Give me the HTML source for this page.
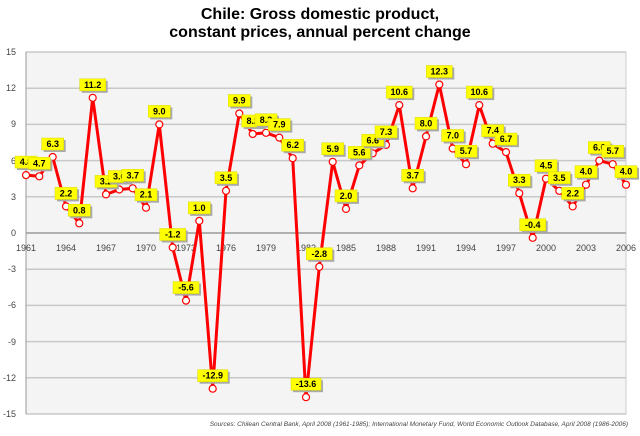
<!DOCTYPE html>
<html><head><meta charset="utf-8"><style>
html,body{margin:0;padding:0;background:#fff}
svg{display:block;font-family:"Liberation Sans",sans-serif}
.t{font-size:16px;font-weight:bold;text-anchor:middle;fill:#000}
.ax{font-size:9px;fill:#444}
.lb rect{fill:#ffff00;stroke:#d8d800;stroke-width:0.5}
.lb .s{fill:#aaa;stroke:none}
.lb text{font-size:9px;font-weight:bold;text-anchor:middle;fill:#000}
</style></head><body>
<svg width="640" height="436" viewBox="0 0 640 436">
<text class="t" x="320" y="19">Chile: Gross domestic product,</text>
<text class="t" x="320" y="37">constant prices, annual percent change</text>
<rect x="26" y="52" width="600" height="362" fill="#f4f4f4" stroke="#ccc"/>
<g stroke="#c8c8c8" stroke-width="1.5">
<line x1="26" x2="626" y1="52" y2="52"/><line x1="26" x2="626" y1="88.2" y2="88.2"/><line x1="26" x2="626" y1="124.4" y2="124.4"/><line x1="26" x2="626" y1="160.6" y2="160.6"/><line x1="26" x2="626" y1="196.8" y2="196.8"/>
<line x1="26" x2="626" y1="269.2" y2="269.2"/><line x1="26" x2="626" y1="305.4" y2="305.4"/><line x1="26" x2="626" y1="341.6" y2="341.6"/><line x1="26" x2="626" y1="377.8" y2="377.8"/><line x1="26" x2="626" y1="414" y2="414"/>
</g>
<line x1="26" x2="626" y1="233" y2="233" stroke="#999" stroke-width="1.5"/>
<line x1="26" x2="26" y1="52" y2="414" stroke="#999"/>
<g class="ax" text-anchor="end">
<text x="16" y="55">15</text><text x="16" y="91">12</text><text x="16" y="127">9</text><text x="16" y="164">6</text><text x="16" y="200">3</text><text x="16" y="236">0</text><text x="16" y="272">-3</text><text x="16" y="308">-6</text><text x="16" y="345">-9</text><text x="16" y="381">-12</text><text x="16" y="417">-15</text>
</g>
<g class="ax" text-anchor="middle">
<text x="26" y="251">1961</text><text x="66" y="251">1964</text><text x="106" y="251">1967</text><text x="146" y="251">1970</text><text x="186" y="251">1973</text><text x="226" y="251">1976</text><text x="266" y="251">1979</text><text x="306" y="251">1982</text><text x="346" y="251">1985</text><text x="386" y="251">1988</text><text x="426" y="251">1991</text><text x="466" y="251">1994</text><text x="506" y="251">1997</text><text x="546" y="251">2000</text><text x="586" y="251">2003</text><text x="626" y="251">2006</text>
</g>
<polyline fill="none" stroke="#ff0000" stroke-width="3" stroke-linejoin="round" points="26,175.1 39.3,176.3 52.7,157 66,206.4 79.3,223.3 92.7,97.8 106,194.4 119.3,189.5 132.7,188.3 146,207.7 159.3,124.4 172.7,247.5 186,300.6 199.3,220.9 212.7,388.7 226,190.8 239.3,113.5 252.7,134 266,132.8 279.3,137.6 292.7,158.2 306,397.2 319.3,266.8 332.7,161.8 346,208.9 359.3,165.4 372.7,153.3 386,144.9 399.3,105.1 412.7,188.3 426,136.4 439.3,84.5 452.7,148.5 466,164.2 479.3,105.1 492.7,143.7 506,152.1 519.3,193.2 532.7,237.8 546,178.7 559.3,190.8 572.7,206.4 586,184.7 599.3,160.6 612.7,164.2 626,184.7"/>
<g fill="#fff" stroke="#ff0000" stroke-width="1.2">
<circle cx="26" cy="175.1" r="3.5"/><circle cx="39.3" cy="176.3" r="3.5"/><circle cx="52.7" cy="157" r="3.5"/><circle cx="66" cy="206.4" r="3.5"/><circle cx="79.3" cy="223.3" r="3.5"/><circle cx="92.7" cy="97.8" r="3.5"/><circle cx="106" cy="194.4" r="3.5"/><circle cx="119.3" cy="189.5" r="3.5"/><circle cx="132.7" cy="188.3" r="3.5"/><circle cx="146" cy="207.7" r="3.5"/><circle cx="159.3" cy="124.4" r="3.5"/><circle cx="172.7" cy="247.5" r="3.5"/><circle cx="186" cy="300.6" r="3.5"/><circle cx="199.3" cy="220.9" r="3.5"/><circle cx="212.7" cy="388.7" r="3.5"/><circle cx="226" cy="190.8" r="3.5"/><circle cx="239.3" cy="113.5" r="3.5"/><circle cx="252.7" cy="134" r="3.5"/><circle cx="266" cy="132.8" r="3.5"/><circle cx="279.3" cy="137.6" r="3.5"/><circle cx="292.7" cy="158.2" r="3.5"/><circle cx="306" cy="397.2" r="3.5"/><circle cx="319.3" cy="266.8" r="3.5"/><circle cx="332.7" cy="161.8" r="3.5"/><circle cx="346" cy="208.9" r="3.5"/><circle cx="359.3" cy="165.4" r="3.5"/><circle cx="372.7" cy="153.3" r="3.5"/><circle cx="386" cy="144.9" r="3.5"/><circle cx="399.3" cy="105.1" r="3.5"/><circle cx="412.7" cy="188.3" r="3.5"/><circle cx="426" cy="136.4" r="3.5"/><circle cx="439.3" cy="84.5" r="3.5"/><circle cx="452.7" cy="148.5" r="3.5"/><circle cx="466" cy="164.2" r="3.5"/><circle cx="479.3" cy="105.1" r="3.5"/><circle cx="492.7" cy="143.7" r="3.5"/><circle cx="506" cy="152.1" r="3.5"/><circle cx="519.3" cy="193.2" r="3.5"/><circle cx="532.7" cy="237.8" r="3.5"/><circle cx="546" cy="178.7" r="3.5"/><circle cx="559.3" cy="190.8" r="3.5"/><circle cx="572.7" cy="206.4" r="3.5"/><circle cx="586" cy="184.7" r="3.5"/><circle cx="599.3" cy="160.6" r="3.5"/><circle cx="612.7" cy="164.2" r="3.5"/><circle cx="626" cy="184.7" r="3.5"/>
</g>
<g class="lb">
<g transform="translate(26,175.1)"><rect class="s" x="-9" y="-17" width="22" height="12"/><rect x="-11" y="-19" width="22" height="12"/><text y="-10">4.8</text></g>
<g transform="translate(39.3,176.3)"><rect class="s" x="-9" y="-17" width="22" height="12"/><rect x="-11" y="-19" width="22" height="12"/><text y="-10">4.7</text></g>
<g transform="translate(52.7,157)"><rect class="s" x="-9" y="-17" width="22" height="12"/><rect x="-11" y="-19" width="22" height="12"/><text y="-10">6.3</text></g>
<g transform="translate(66,206.4)"><rect class="s" x="-9" y="-17" width="22" height="12"/><rect x="-11" y="-19" width="22" height="12"/><text y="-10">2.2</text></g>
<g transform="translate(79.3,223.3)"><rect class="s" x="-9" y="-17" width="22" height="12"/><rect x="-11" y="-19" width="22" height="12"/><text y="-10">0.8</text></g>
<g transform="translate(92.7,97.8)"><rect class="s" x="-11" y="-17" width="26" height="12"/><rect x="-13" y="-19" width="26" height="12"/><text y="-10">11.2</text></g>
<g transform="translate(106,194.4)"><rect class="s" x="-9" y="-17" width="22" height="12"/><rect x="-11" y="-19" width="22" height="12"/><text y="-10">3.2</text></g>
<g transform="translate(119.3,189.5)"><rect class="s" x="-9" y="-17" width="22" height="12"/><rect x="-11" y="-19" width="22" height="12"/><text y="-10">3.6</text></g>
<g transform="translate(132.7,188.3)"><rect class="s" x="-9" y="-17" width="22" height="12"/><rect x="-11" y="-19" width="22" height="12"/><text y="-10">3.7</text></g>
<g transform="translate(146,207.7)"><rect class="s" x="-9" y="-17" width="22" height="12"/><rect x="-11" y="-19" width="22" height="12"/><text y="-10">2.1</text></g>
<g transform="translate(159.3,124.4)"><rect class="s" x="-9" y="-17" width="22" height="12"/><rect x="-11" y="-19" width="22" height="12"/><text y="-10">9.0</text></g>
<g transform="translate(172.7,247.5)"><rect class="s" x="-11" y="-17" width="26" height="12"/><rect x="-13" y="-19" width="26" height="12"/><text y="-10">-1.2</text></g>
<g transform="translate(186,300.6)"><rect class="s" x="-11" y="-17" width="26" height="12"/><rect x="-13" y="-19" width="26" height="12"/><text y="-10">-5.6</text></g>
<g transform="translate(199.3,220.9)"><rect class="s" x="-9" y="-17" width="22" height="12"/><rect x="-11" y="-19" width="22" height="12"/><text y="-10">1.0</text></g>
<g transform="translate(212.7,388.7)"><rect class="s" x="-13" y="-17" width="30" height="12"/><rect x="-15" y="-19" width="30" height="12"/><text y="-10">-12.9</text></g>
<g transform="translate(226,190.8)"><rect class="s" x="-9" y="-17" width="22" height="12"/><rect x="-11" y="-19" width="22" height="12"/><text y="-10">3.5</text></g>
<g transform="translate(239.3,113.5)"><rect class="s" x="-9" y="-17" width="22" height="12"/><rect x="-11" y="-19" width="22" height="12"/><text y="-10">9.9</text></g>
<g transform="translate(252.7,134)"><rect class="s" x="-9" y="-17" width="22" height="12"/><rect x="-11" y="-19" width="22" height="12"/><text y="-10">8.2</text></g>
<g transform="translate(266,132.8)"><rect class="s" x="-9" y="-17" width="22" height="12"/><rect x="-11" y="-19" width="22" height="12"/><text y="-10">8.3</text></g>
<g transform="translate(279.3,137.6)"><rect class="s" x="-9" y="-17" width="22" height="12"/><rect x="-11" y="-19" width="22" height="12"/><text y="-10">7.9</text></g>
<g transform="translate(292.7,158.2)"><rect class="s" x="-9" y="-17" width="22" height="12"/><rect x="-11" y="-19" width="22" height="12"/><text y="-10">6.2</text></g>
<g transform="translate(306,397.2)"><rect class="s" x="-13" y="-17" width="30" height="12"/><rect x="-15" y="-19" width="30" height="12"/><text y="-10">-13.6</text></g>
<g transform="translate(319.3,266.8)"><rect class="s" x="-11" y="-17" width="26" height="12"/><rect x="-13" y="-19" width="26" height="12"/><text y="-10">-2.8</text></g>
<g transform="translate(332.7,161.8)"><rect class="s" x="-9" y="-17" width="22" height="12"/><rect x="-11" y="-19" width="22" height="12"/><text y="-10">5.9</text></g>
<g transform="translate(346,208.9)"><rect class="s" x="-9" y="-17" width="22" height="12"/><rect x="-11" y="-19" width="22" height="12"/><text y="-10">2.0</text></g>
<g transform="translate(359.3,165.4)"><rect class="s" x="-9" y="-17" width="22" height="12"/><rect x="-11" y="-19" width="22" height="12"/><text y="-10">5.6</text></g>
<g transform="translate(372.7,153.3)"><rect class="s" x="-9" y="-17" width="22" height="12"/><rect x="-11" y="-19" width="22" height="12"/><text y="-10">6.6</text></g>
<g transform="translate(386,144.9)"><rect class="s" x="-9" y="-17" width="22" height="12"/><rect x="-11" y="-19" width="22" height="12"/><text y="-10">7.3</text></g>
<g transform="translate(399.3,105.1)"><rect class="s" x="-11" y="-17" width="26" height="12"/><rect x="-13" y="-19" width="26" height="12"/><text y="-10">10.6</text></g>
<g transform="translate(412.7,188.3)"><rect class="s" x="-9" y="-17" width="22" height="12"/><rect x="-11" y="-19" width="22" height="12"/><text y="-10">3.7</text></g>
<g transform="translate(426,136.4)"><rect class="s" x="-9" y="-17" width="22" height="12"/><rect x="-11" y="-19" width="22" height="12"/><text y="-10">8.0</text></g>
<g transform="translate(439.3,84.5)"><rect class="s" x="-11" y="-17" width="26" height="12"/><rect x="-13" y="-19" width="26" height="12"/><text y="-10">12.3</text></g>
<g transform="translate(452.7,148.5)"><rect class="s" x="-9" y="-17" width="22" height="12"/><rect x="-11" y="-19" width="22" height="12"/><text y="-10">7.0</text></g>
<g transform="translate(466,164.2)"><rect class="s" x="-9" y="-17" width="22" height="12"/><rect x="-11" y="-19" width="22" height="12"/><text y="-10">5.7</text></g>
<g transform="translate(479.3,105.1)"><rect class="s" x="-11" y="-17" width="26" height="12"/><rect x="-13" y="-19" width="26" height="12"/><text y="-10">10.6</text></g>
<g transform="translate(492.7,143.7)"><rect class="s" x="-9" y="-17" width="22" height="12"/><rect x="-11" y="-19" width="22" height="12"/><text y="-10">7.4</text></g>
<g transform="translate(506,152.1)"><rect class="s" x="-9" y="-17" width="22" height="12"/><rect x="-11" y="-19" width="22" height="12"/><text y="-10">6.7</text></g>
<g transform="translate(519.3,193.2)"><rect class="s" x="-9" y="-17" width="22" height="12"/><rect x="-11" y="-19" width="22" height="12"/><text y="-10">3.3</text></g>
<g transform="translate(532.7,237.8)"><rect class="s" x="-11" y="-17" width="26" height="12"/><rect x="-13" y="-19" width="26" height="12"/><text y="-10">-0.4</text></g>
<g transform="translate(546,178.7)"><rect class="s" x="-9" y="-17" width="22" height="12"/><rect x="-11" y="-19" width="22" height="12"/><text y="-10">4.5</text></g>
<g transform="translate(559.3,190.8)"><rect class="s" x="-9" y="-17" width="22" height="12"/><rect x="-11" y="-19" width="22" height="12"/><text y="-10">3.5</text></g>
<g transform="translate(572.7,206.4)"><rect class="s" x="-9" y="-17" width="22" height="12"/><rect x="-11" y="-19" width="22" height="12"/><text y="-10">2.2</text></g>
<g transform="translate(586,184.7)"><rect class="s" x="-9" y="-17" width="22" height="12"/><rect x="-11" y="-19" width="22" height="12"/><text y="-10">4.0</text></g>
<g transform="translate(599.3,160.6)"><rect class="s" x="-9" y="-17" width="22" height="12"/><rect x="-11" y="-19" width="22" height="12"/><text y="-10">6.0</text></g>
<g transform="translate(612.7,164.2)"><rect class="s" x="-9" y="-17" width="22" height="12"/><rect x="-11" y="-19" width="22" height="12"/><text y="-10">5.7</text></g>
<g transform="translate(626,184.7)"><rect class="s" x="-9" y="-17" width="22" height="12"/><rect x="-11" y="-19" width="22" height="12"/><text y="-10">4.0</text></g>
</g>
<text x="628" y="426" text-anchor="end" font-size="6.5" font-style="italic" fill="#444">Sources: Chilean Central Bank, April 2008 (1961-1985); International Monetary Fund, World Economic Outlook Database, April 2008 (1986-2006)</text>
</svg>
</body></html>
